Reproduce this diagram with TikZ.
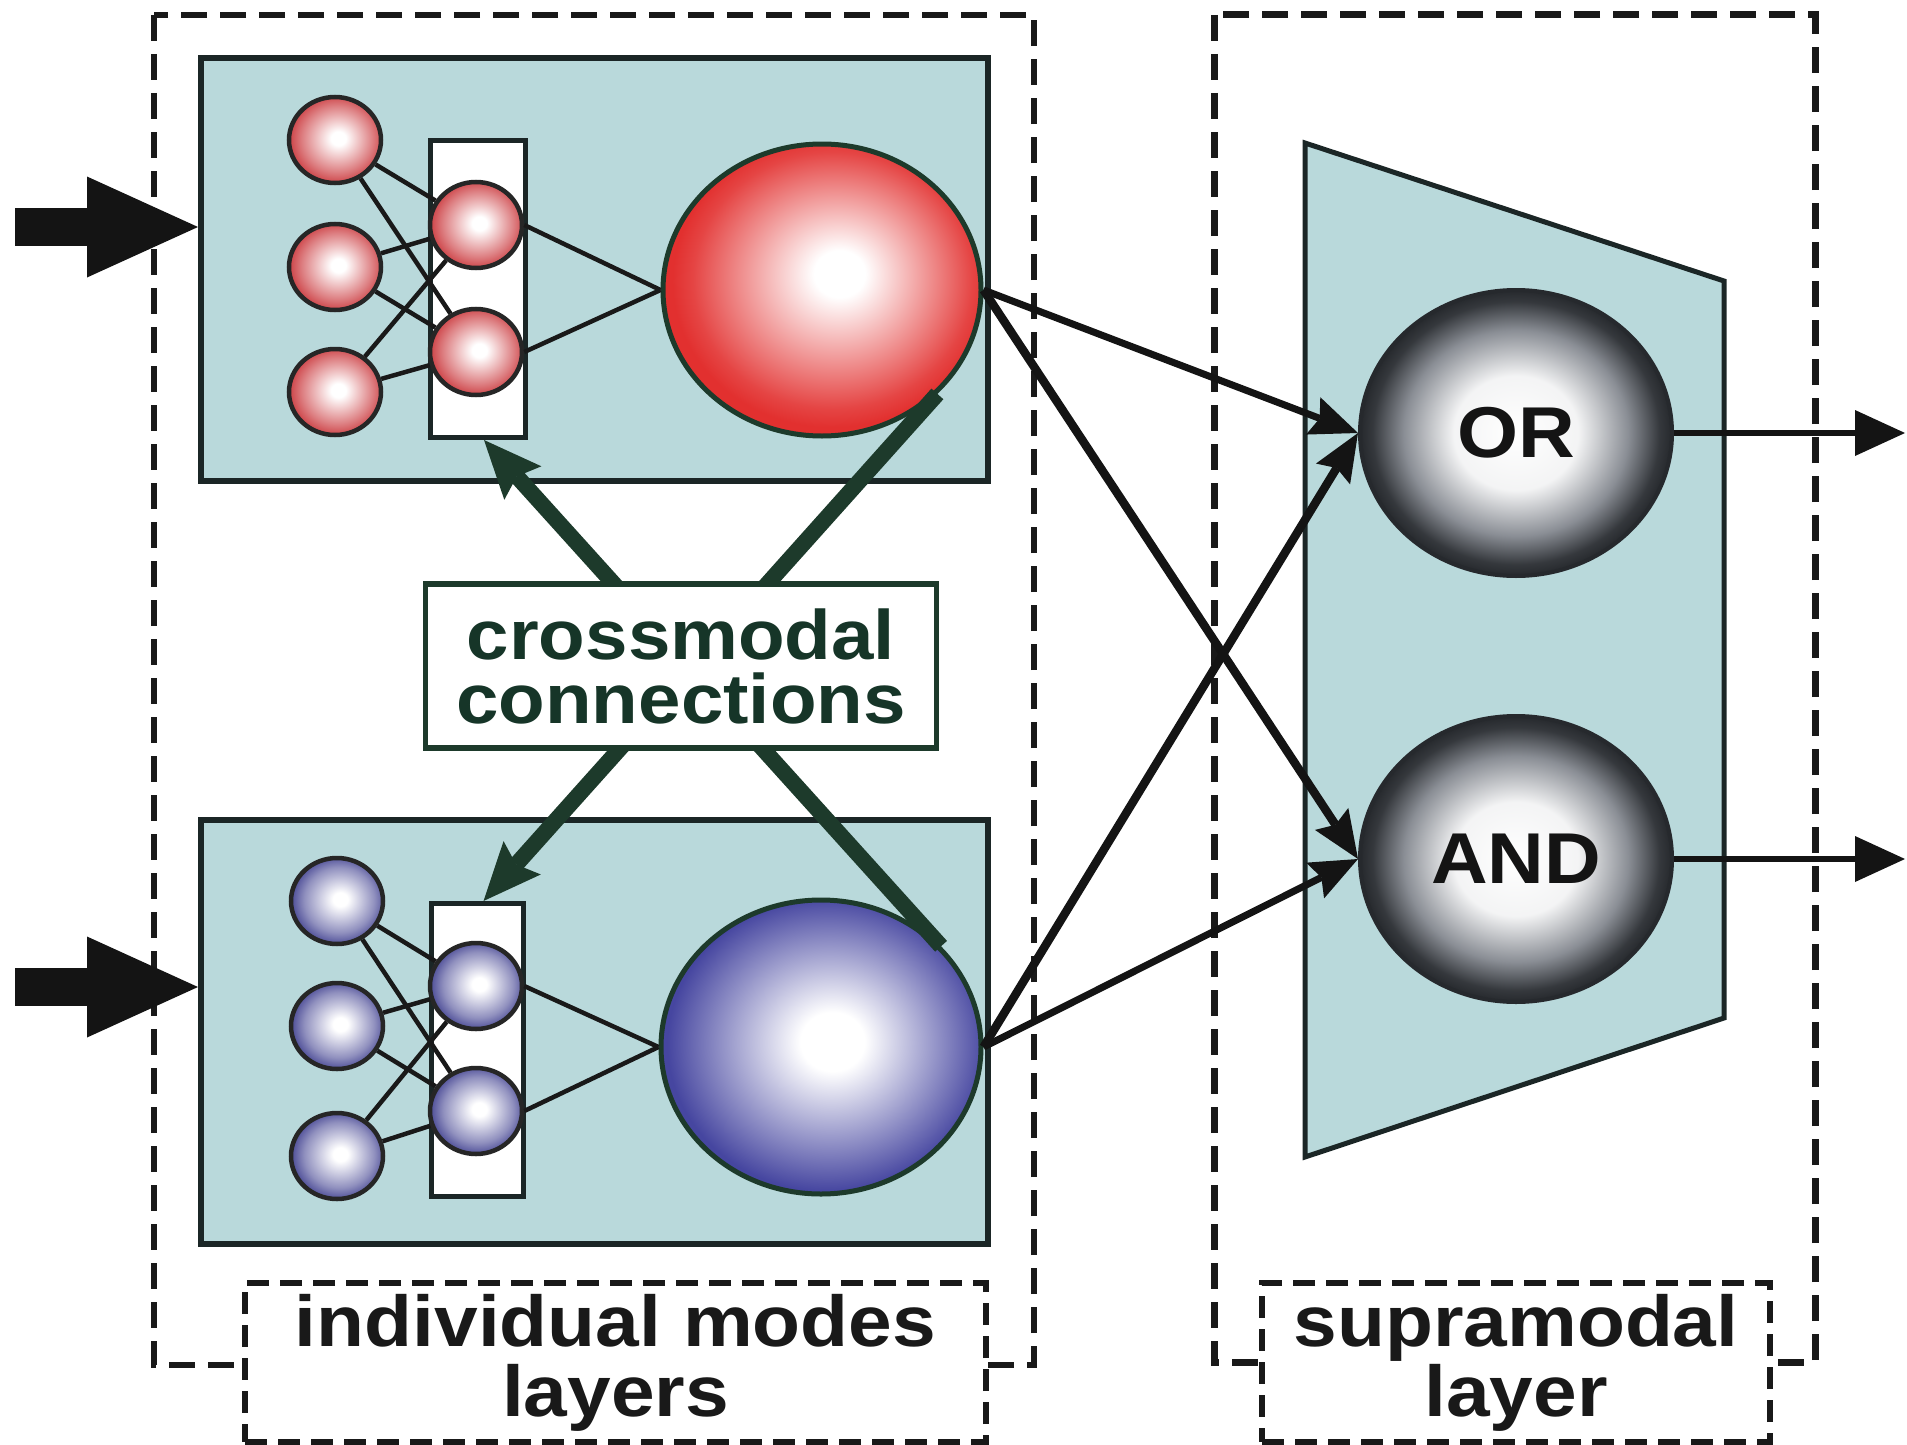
\documentclass[tikz,border=0pt]{standalone}
\usepackage{fontspec}
\newfontfamily\lbl{Liberation Sans}[FakeStretch=1.09]
\usetikzlibrary{shapes.geometric,arrows.meta,calc}
\definecolor{boxfill}{HTML}{B9D9DB}
\definecolor{boxedge}{HTML}{1B2626}
\definecolor{dkgreen}{HTML}{1D3A2B}
\definecolor{cmtext}{HTML}{163528}
\definecolor{bigred}{HTML}{E2302F}
\definecolor{smred}{HTML}{CF4A4E}
\definecolor{bigblue}{HTML}{4646A0}
\definecolor{smblue}{HTML}{55559C}
\definecolor{gatemid}{HTML}{8A8E95}
\definecolor{gateedge}{HTML}{26292D}
\pgfdeclareradialshading{bigredball}{\pgfpoint{3bp}{3bp}}{color(0bp)=(white); color(4bp)=(white); color(22bp)=(bigred!90); color(25bp)=(bigred); color(50bp)=(bigred)}
\pgfdeclareradialshading{smredball}{\pgfpoint{2bp}{1bp}}{color(0bp)=(white); color(4bp)=(white); color(19bp)=(smred!70); color(25bp)=(smred); color(50bp)=(smred)}
\pgfdeclareradialshading{bigblueball}{\pgfpoint{2bp}{1bp}}{color(0bp)=(white); color(5bp)=(white); color(22bp)=(bigblue!85); color(25bp)=(bigblue); color(50bp)=(bigblue)}
\pgfdeclareradialshading{smblueball}{\pgfpoint{2bp}{1bp}}{color(0bp)=(white); color(4bp)=(white); color(19bp)=(smblue!65); color(25bp)=(smblue); color(50bp)=(smblue)}
\pgfdeclareradialshading{grayball}{\pgfpoint{0bp}{0bp}}{color(0bp)=(white); color(10bp)=(white!90!gatemid); color(18bp)=(gatemid); color(23bp)=(gateedge!85!gatemid); color(25bp)=(gateedge); color(50bp)=(gateedge)}
\begin{document}
\begin{tikzpicture}[x=1pt,y=-1pt,
  panel/.style={draw=boxedge, line width=6pt, fill=boxfill, inner sep=0pt, anchor=north west},
  hidrect/.style={draw=boxedge, line width=5pt, fill=white, inner sep=0pt, anchor=north west},
  smallball/.style={ellipse, minimum width=92pt, minimum height=86pt, inner sep=0pt, draw=black!85, line width=4.5pt, shade},
  smr/.style={smallball, shading=smredball},
  smb/.style={smallball, shading=smblueball},
  bigball/.style={ellipse, inner sep=0pt, draw=dkgreen, line width=5pt, shade},
  gate/.style={ellipse, minimum width=312pt, minimum height=286pt, inner sep=0pt, draw=gateedge, line width=4pt, shade, shading=grayball, font=\lbl\bfseries\fontsize{72}{72}\selectfont, text=black!92},
  wire/.style={draw=black!90, line width=4.5pt},
  outdash/.style={draw=black!90, line width=6pt, dash pattern=on 26pt off 13pt},
  labbox/.style={draw=black!90, line width=5.5pt, dash pattern=on 22pt off 11pt, fill=white, inner sep=0pt, align=center, font=\lbl\bfseries\fontsize{72}{70}\selectfont, text=black!90},
  blkarrow/.style={draw=black!92, line width=7pt, -{Stealth[length=48pt,width=40pt,inset=7pt,line width=0pt]}},
  outarrow/.style={draw=black!92, line width=6pt, -{Triangle[length=50pt,width=46pt,line width=0pt]}},
  inarrow/.style={draw=black!92, line width=38pt, -{Triangle[length=111pt,width=101pt,line width=0pt]}},
  cmline/.style={draw=dkgreen, line width=16pt},
  cmarrow/.style={cmline, -{Stealth[length=58pt,width=50pt,inset=9pt,line width=0pt]}}
]
\useasboundingbox (0,0) rectangle (1907,1445);

% outer dashed layer boxes
\draw[outdash] (154,15) rectangle (1034,1365);
\draw[outdash, line width=7pt] (1214,15) rectangle (1815,1362);

% panels
\node[panel, minimum width=787pt, minimum height=423pt] (boxA) at (198,55) {};
\node[panel, minimum width=787pt, minimum height=424pt] (boxB) at (198,817) {};
\draw[draw=boxedge, line width=5pt, fill=boxfill] (1305,143) -- (1724,281) -- (1724,1018) -- (1305,1157) -- cycle;

% hidden-layer rectangles
\node[hidrect, minimum width=95pt, minimum height=297pt] (rectA) at (428,138) {};
\node[hidrect, minimum width=92pt, minimum height=293pt] (rectB) at (429,901) {};

% top (red) module
\node[smr] (a1) at (335,140) {};
\node[smr] (a2) at (335,267) {};
\node[smr] (a3) at (335,392) {};
\node[smr] (h1) at (476,225) {};
\node[smr] (h2) at (476,352) {};
\node[bigball, shading=bigredball, minimum width=318pt, minimum height=292pt] (red) at (822,290) {};
\foreach \i in {a1,a2,a3}{\foreach \j in {h1,h2}{\draw[wire] (\i) -- (\j);}}
\draw[wire] (h1.east) -- (red.west);
\draw[wire] (h2.east) -- (red.west);

% bottom (blue) module
\node[smb] (b1) at (337,901) {};
\node[smb] (b2) at (337,1026) {};
\node[smb] (b3) at (337,1156) {};
\node[smb] (k1) at (476,986) {};
\node[smb] (k2) at (476,1111) {};
\node[bigball, shading=bigblueball, minimum width=320pt, minimum height=294pt] (blue) at (821,1047) {};
\foreach \i in {b1,b2,b3}{\foreach \j in {k1,k2}{\draw[wire] (\i) -- (\j);}}
\draw[wire] (k1.east) -- (blue.west);
\draw[wire] (k2.east) -- (blue.west);

% supramodal gates
\node[gate] (OR) at (1516,433) {OR};
\node[gate] (AND) at (1516,859) {AND};

% connections to gates
\draw[blkarrow] (red.east) -- (OR.west);
\draw[blkarrow, line width=8.5pt] (red.east) -- (AND.west);
\draw[blkarrow, line width=8.5pt] (blue.east) -- (OR.west);
\draw[blkarrow] (blue.east) -- (AND.west);

% outputs
\coordinate (outOR) at (1905,433);
\coordinate (outAND) at (1905,859);
\draw[outarrow] (OR.east) -- (outOR);
\draw[outarrow] (AND.east) -- (outAND);

% inputs
\coordinate (inA) at (15,227);
\coordinate (inB) at (15,987);
\draw[inarrow] (inA) -- (inA -| boxA.west);
\draw[inarrow] (inB) -- (inB -| boxB.west);

% crossmodal connections
\draw[cmarrow] (red.-42) -- ($(rectB.north)+(6,0)$);
\draw[cmarrow] (blue.40) -- ($(rectA.south)+(6,0)$);
\node[draw=dkgreen, line width=5.5pt, fill=white, inner sep=0pt, minimum width=511pt, minimum height=164pt, align=center, text=cmtext, font=\lbl\bfseries\fontsize{70}{64}\selectfont] (cm) at (681,666) {crossmodal\\connections};

% layer labels
\node[labbox, minimum width=741pt, minimum height=159pt] (labA) at (615.5,1362.5) {individual modes\\layers};
\node[labbox, minimum width=508pt, minimum height=159pt] (labB) at (1516,1362.5) {supramodal\\layer};
\end{tikzpicture}
\end{document}
